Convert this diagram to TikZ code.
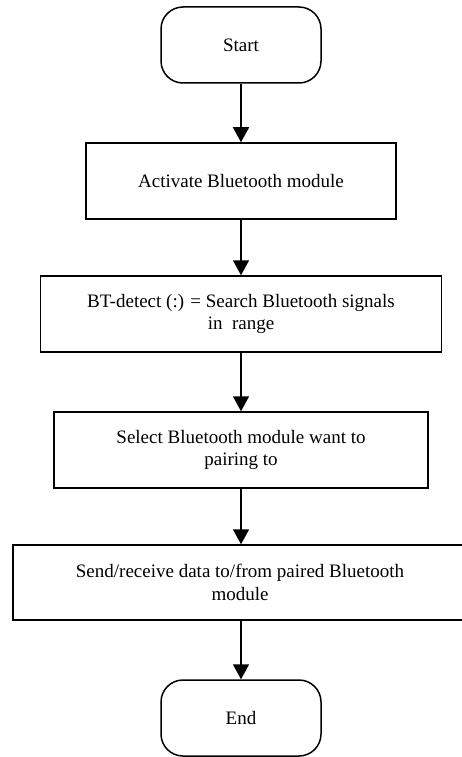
\documentclass[tikz,border=0pt]{standalone}
\usepackage{fontspec}
\setmainfont{Liberation Serif}
\usetikzlibrary{arrows.meta}
\begin{document}
\begin{tikzpicture}[x=1pt,y=-1pt,
  box/.style={draw,line width=1.5pt,rectangle,align=center,inner sep=2pt,
    minimum height=76pt,font=\fontsize{19}{22.5}\selectfont},
  term/.style={box,rounded corners=22pt,minimum width=160pt},
  arr/.style={line width=1.8pt,-{Triangle[width=16pt,length=15pt]}}]
\useasboundingbox (0,0) rectangle (461,757);
\node[term] (start) at (241,45) {Start};
\node[box,minimum width=310pt] (act) at (241,181) {Activate Bluetooth module};
\node[box,minimum width=401pt] (det) at (241,314) {BT-detect (:) = Search Bluetooth signals\\in\ \ range};
\node[box,minimum width=374pt] (sel) at (241,450) {Select Bluetooth module want to\\pairing to};
\node[box,minimum width=454pt,minimum height=75pt] (send) at (240,582.5) {Send/receive data to/from paired Bluetooth\\module};
\node[term] (end) at (241,718) {End};
\draw[arr] (start.south) -- (start.south |- act.north);
\draw[arr] (act.south) -- (act.south |- det.north);
\draw[arr] (det.south) -- (det.south |- sel.north);
\draw[arr] (sel.south) -- (sel.south |- send.north);
\draw[arr] (end.north |- send.south) -- (end.north);
\end{tikzpicture}
\end{document}
